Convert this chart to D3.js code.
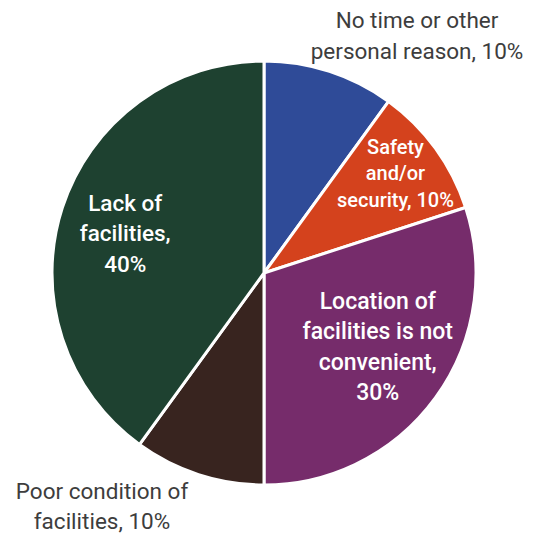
<!DOCTYPE html>
<html>
<head>
<meta charset="utf-8">
<script src="https://cdn.jsdelivr.net/npm/d3@7"></script>
<style>
  html, body { margin: 0; padding: 0; background: #fff; }
  svg { display: block; }
</style>
</head>
<body>
<svg id="chart" width="538" height="538"></svg>
<script>
// Reasons for not using facilities (share of respondents, %)
const categories = [
  "No time or other personal reason",
  "Safety and/or security",
  "Location of facilities is not convenient",
  "Poor condition of facilities",
  "Lack of facilities"
];
const values = [10, 10, 30, 10, 40];
const colors = ["#2f4b98", "#d4421d", "#762c6b", "#38241f", "#1e4130"];

// Label lines per slice, drawn inside or outside the pie
const labelLines = [
  ["No time or other", "personal reason, 10%"],
  ["Safety", "and/or", "security, 10%"],
  ["Location of", "facilities is not", "convenient,", "30%"],
  ["Poor condition of", "facilities, 10%"],
  ["Lack of", "facilities,", "40%"]
];

const svg = d3.select("#chart");
const cx = 264, cy = 273, r = 212;

const pie = d3.pie().sort(null).value(d => d.value);
const arc = d3.arc().innerRadius(0).outerRadius(r);
const data = categories.map((c, i) => ({ name: c, value: values[i], color: colors[i], lines: labelLines[i] }));
const arcs = pie(data);

const g = svg.append("g").attr("transform", `translate(${cx},${cy})`);

g.selectAll("path.slice")
  .data(arcs)
  .join("path")
  .attr("class", "slice")
  .attr("d", arc)
  .attr("fill", d => d.data.color)
  .attr("stroke", "#fff")
  .attr("stroke-width", 3)
  .attr("stroke-linejoin", "round");

// Label placement: outside labels use a fixed offset from the centre,
// inside labels sit on the slice's mid-angle at a fraction of the radius
const labelStyle = [
  { outside: true, pos: [153, -237], size: 22.5, fill: "#3d3d3d", weight: 400, lh: 31 },
  { radius: 0.72, nudge: [8, -10],  size: 20,   fill: "#fff",    weight: 500, lh: 26.5 },
  { radius: 0.50, nudge: [28, 11],  size: 23,   fill: "#fff",    weight: 500, lh: 30.5 },
  { outside: true, pos: [-162, 233], size: 22.5, fill: "#3d3d3d", weight: 400, lh: 30 },
  { radius: 0.50, nudge: [-38, -7], size: 22.5, fill: "#fff",    weight: 500, lh: 30.5 }
];

arcs.forEach((a, i) => {
  const st = labelStyle[i];
  let x, y;
  if (st.outside) {
    [x, y] = st.pos;
  } else {
    const mid = (a.startAngle + a.endAngle) / 2;
    x = Math.sin(mid) * r * st.radius + st.nudge[0];
    y = -Math.cos(mid) * r * st.radius + st.nudge[1];
  }
  const lines = a.data.lines;
  const t = g.append("text")
    .attr("text-anchor", "middle")
    .attr("font-family", "Roboto, 'Noto Sans', sans-serif")
    .attr("font-size", st.size)
    .attr("font-weight", st.weight)
    .attr("fill", st.fill);
  const top = y - (lines.length - 1) * st.lh / 2;
  lines.forEach((ln, k) => {
    t.append("tspan")
      .attr("x", x)
      .attr("y", top + k * st.lh)
      .attr("dy", "0.35em")
      .text(ln);
  });
});
</script>
</body>
</html>
